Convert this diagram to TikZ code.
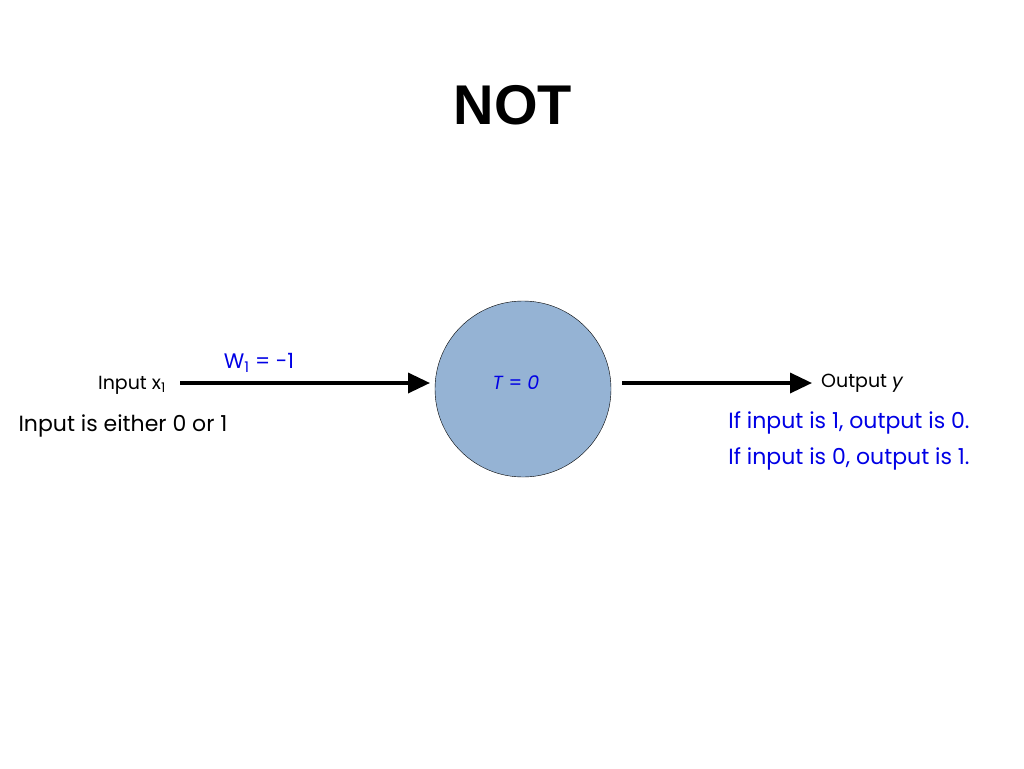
\documentclass[tikz,border=0pt]{standalone}
\usepackage{fontspec}
\setmainfont{Poppins}
\newfontfamily\titlefont{Liberation Sans}
\usetikzlibrary{arrows.meta,positioning}
\colorlet{weight}{blue!90!black}
\definecolor{neuron}{RGB}{149,179,212}
\tikzset{
  conn/.style={line width=3.5pt,-{Triangle[length=22pt,width=20pt]}},
  lbl/.style={inner sep=0pt,font=\fontsize{19}{23}\selectfont},
  note/.style={inner sep=0pt,font=\fontsize{22}{36}\selectfont,align=left}
}
\begin{document}
\begin{tikzpicture}[x=1pt,y=-1pt]
\useasboundingbox[fill=white] (0,0) rectangle (1024,768);
\node[font=\titlefont\bfseries\fontsize{56}{60}\selectfont] (title) at (513,105) {NOT};

\node[circle,draw=black,fill=neuron,minimum size=176pt,inner sep=0pt] (n) at (523,389) {};
\node[lbl,text=weight] (t) at (516,383) {\textit{T} = \textit{0}};

\node[lbl,anchor=east] (in) at (166,385) {Input x\textsubscript{1}};
\coordinate (a0) at (180,383);
\coordinate (a1) at (430,383);
\draw[conn] (a0) -- (a1);
\node[lbl,text=weight,font=\fontsize{21}{25}\selectfont] (w) at (259,363) {W\textsubscript{1} = -1};
\node[note] (in2) at (123,426) {Input is either 0 or 1};

\coordinate (b0) at (622,383);
\coordinate (b1) at (812,383);
\draw[conn] (b0) -- (b1);
\node[lbl,anchor=west] (out) at (821,383) {Output \textit{y}};
\node[note,text=weight] (rule) at (849,441) {If input is 1, output is 0.\\If input is 0, output is 1.};
\end{tikzpicture}
\end{document}
